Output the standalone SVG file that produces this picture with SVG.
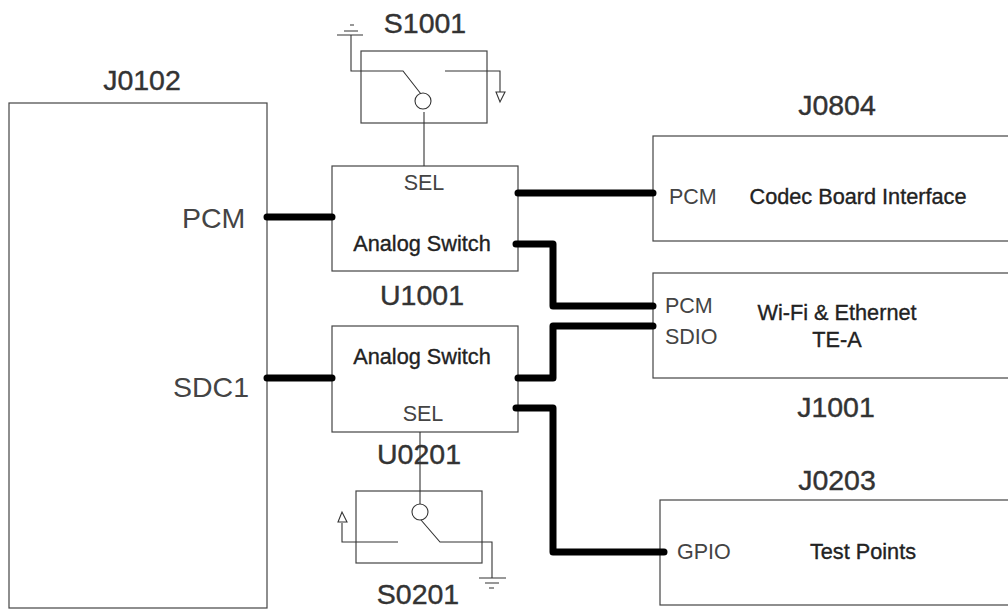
<svg xmlns="http://www.w3.org/2000/svg" width="1008" height="610" viewBox="0 0 1008 610">
<style>
.b{fill:#fff;stroke:#444;stroke-width:1.2}
.w{fill:none;stroke:#333;stroke-width:1.1}
.bus{fill:none;stroke:#000;stroke-width:7;stroke-linecap:round;stroke-linejoin:round}
text{font-family:"Liberation Sans",Arial,sans-serif;fill:#333}
.t{font-size:28.5px;text-anchor:middle;stroke:#333;stroke-width:.4px}
.m{font-size:21.7px;text-anchor:middle;stroke:#222;stroke-width:.35px;fill:#222}
.p{font-size:21.5px;fill:#444}
.s{font-size:28.5px;fill:#444}
</style>
<rect width="1008" height="610" fill="#fff"/>
<g id="J0102"><rect class="b" x="9" y="103" width="258" height="505"/><text class="t" x="142" y="90">J0102</text><text class="s" x="182" y="228">PCM</text><text class="s" x="173" y="397">SDC1</text></g>
<g id="S1001"><rect class="b" x="361" y="51" width="126" height="72"/><text class="t" x="425" y="33">S1001</text></g>
<g id="U1001"><rect class="b" x="332" y="166" width="186" height="105"/><text class="p" x="424" y="190" text-anchor="middle">SEL</text><text class="m" x="422" y="251">Analog Switch</text><text class="t" x="422" y="305">U1001</text></g>
<g id="U0201"><rect class="b" x="332" y="326" width="186" height="106"/><text class="m" x="422" y="364">Analog Switch</text><text class="p" x="423" y="421" text-anchor="middle">SEL</text><text class="t" x="419" y="464">U0201</text></g>
<g id="S0201"><rect class="b" x="356" y="491" width="126" height="72"/><text class="t" x="418" y="604">S0201</text></g>
<g id="J0804"><rect class="b" x="653" y="136" width="365" height="105"/><text class="t" x="837" y="115">J0804</text><text class="p" x="669" y="204">PCM</text><text class="m" x="858" y="204">Codec Board Interface</text></g>
<g id="J1001"><rect class="b" x="653" y="273" width="365" height="105"/><text class="p" x="665" y="313">PCM</text><text class="p" x="665" y="344">SDIO</text><text class="m" x="837" y="320">Wi-Fi &amp; Ethernet</text><text class="m" x="837" y="347">TE-A</text><text class="t" x="836" y="417">J1001</text></g>
<g id="J0203"><rect class="b" x="660" y="500" width="358" height="105"/><text class="t" x="837" y="490">J0203</text><text class="p" x="677" y="559">GPIO</text><text class="m" x="863" y="559">Test Points</text></g>
<g id="connectors">
<path class="bus" d="M267 217H332M267 378H332"/>
<path class="bus" d="M518 193H653M516 244H553V306H653M518 378H553V326H653M516 408H553V552H664"/>
<path class="w" d="M424 166V112"/>
<circle class="w" cx="423" cy="101" r="8"/>
<path class="w" d="M421 94L403 71H351V35M445 71H500V92"/>
<path class="w" d="M337 35H363M344 31H358M350 25H354"/>
<path class="w" d="M496 92H505L500 102Z"/>
<path class="w" d="M420 432V504"/>
<circle class="w" cx="420" cy="512" r="8"/>
<path class="w" d="M421 520L440 542H492V578M398 542H342V523"/>
<path class="w" d="M479 578H506M485 583H499M489 588H494"/>
<path class="w" d="M338 522H347L342 512Z"/>
</g>
</svg>
